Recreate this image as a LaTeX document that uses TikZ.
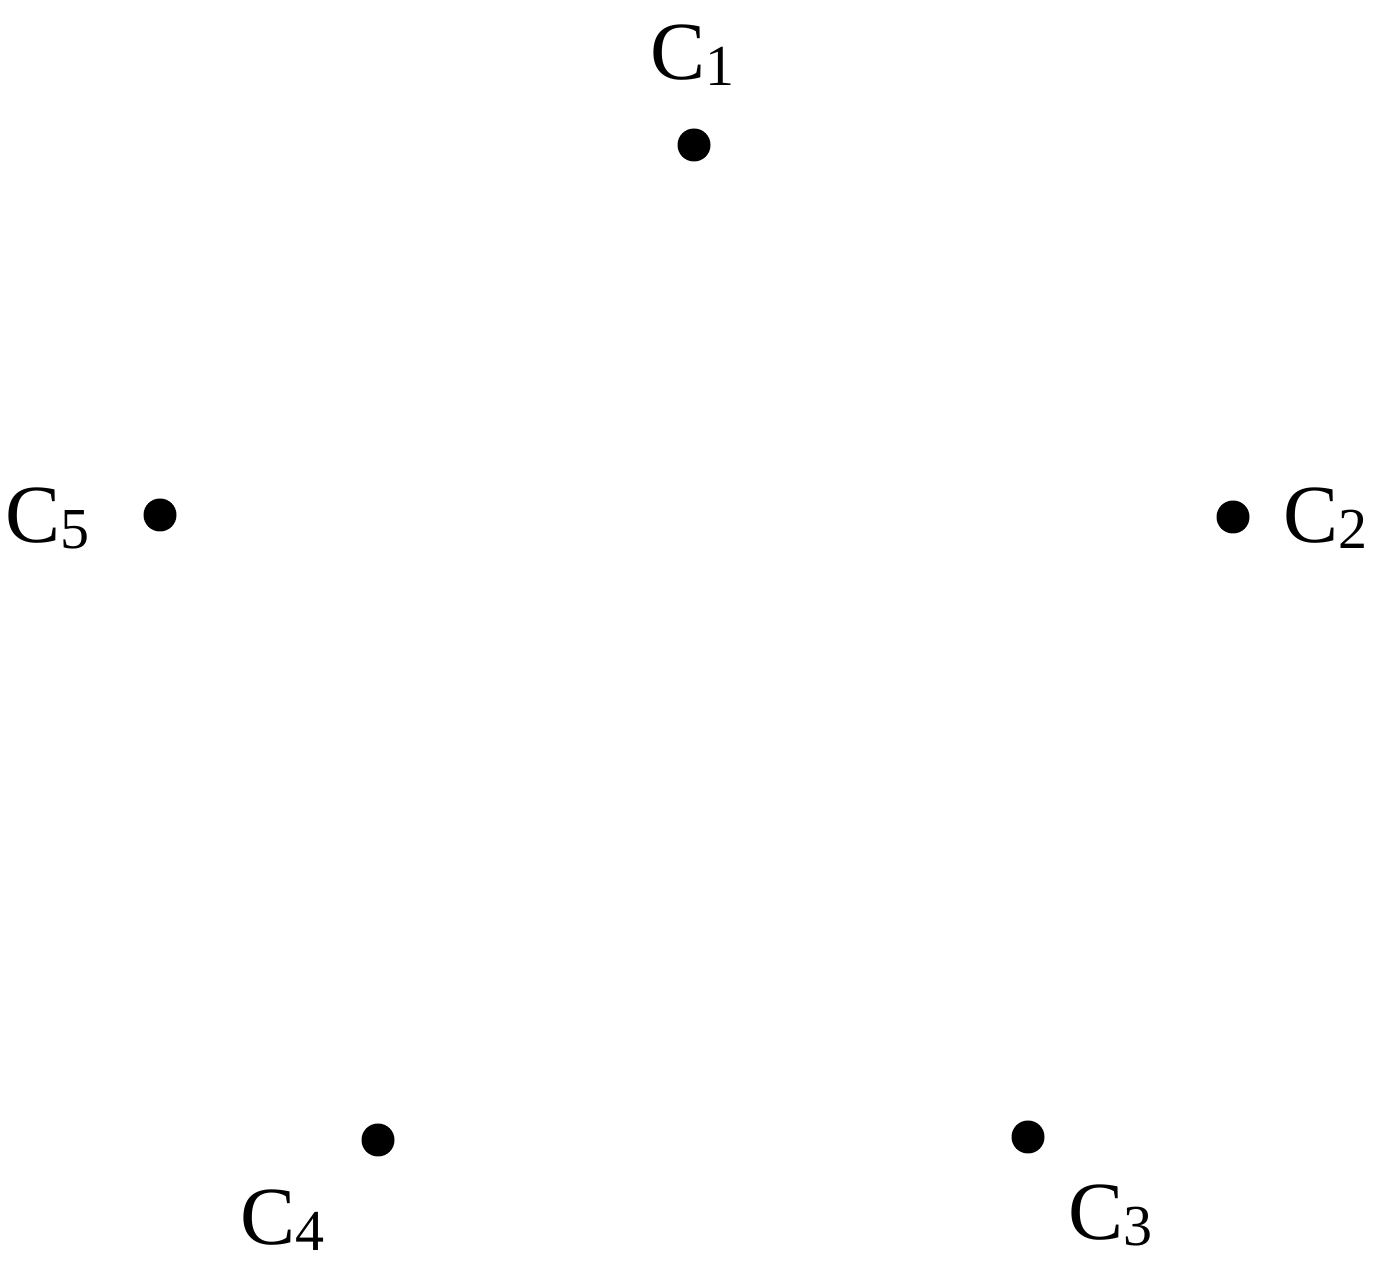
\documentclass[tikz,border=0pt]{standalone}
\usepackage{fontspec}
\setmainfont{Liberation Serif}
\usepackage{tikz}
\usetikzlibrary{positioning}

\newcommand{\csub}[1]{C\raisebox{-3pt}{\fontsize{33}{33}\selectfont #1}}

\tikzset{
	dot/.style={circle,fill=black,inner sep=0pt,minimum size=0.66cm},
	lbl/.style={inner sep=0pt,anchor=base west,font=\fontsize{47}{50}\selectfont}
}

\begin{document}
\begin{tikzpicture}
\useasboundingbox (0,0) rectangle (27.54,25.32);
\node[dot] (c1) at (13.88,22.42) {};
\node[dot] (c2) at (24.66,14.98) {};
\node[dot] (c3) at (20.56,2.58) {};
\node[dot] (c4) at (7.56,2.52) {};
\node[dot] (c5) at (3.2,15.02) {};
\node[lbl] (l1) at (13.0,23.72) {\csub{1}};
\node[lbl] (l2) at (25.66,14.46) {\csub{2}};
\node[lbl] (l3) at (21.36,0.52) {\csub{3}};
\node[lbl] (l4) at (4.8,0.42) {\csub{4}};
\node[lbl] (l5) at (0.1,14.46) {\csub{5}};
\end{tikzpicture}
\end{document}
